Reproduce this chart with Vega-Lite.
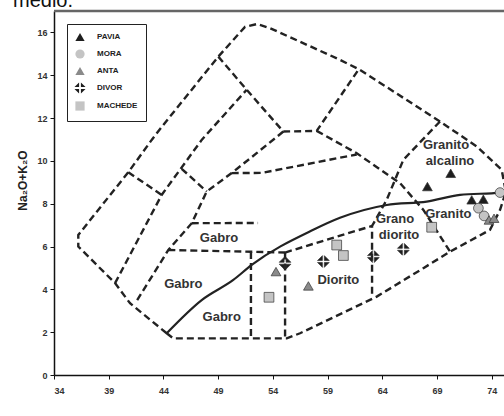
{
  "$schema": "https://vega.github.io/schema/vega-lite/v6.json",
  "width": 450,
  "height": 364,
  "autosize": {"type": "none"},
  "padding": {"left": 54, "top": 11, "right": 0, "bottom": 41},
  "background": "white",
  "config": {"view": {"stroke": null}},
  "datasets": {
    "bounds": [
      {"id": "outer", "o": 1, "x": 44.30, "y": 1.95},
      {"id": "outer", "o": 2, "x": 40.95, "y": 3.35},
      {"id": "outer", "o": 3, "x": 39.58, "y": 4.29},
      {"id": "outer", "o": 4, "x": 36.22, "y": 6.00},
      {"id": "outer", "o": 5, "x": 36.22, "y": 6.54},
      {"id": "outer", "o": 6, "x": 40.79, "y": 9.47},
      {"id": "outer", "o": 7, "x": 42.93, "y": 10.98},
      {"id": "outer", "o": 8, "x": 43.99, "y": 11.68},
      {"id": "outer", "o": 9, "x": 49.02, "y": 14.87},
      {"id": "outer", "o": 10, "x": 51.46, "y": 16.26},
      {"id": "outer", "o": 11, "x": 52.56, "y": 16.39},
      {"id": "outer", "o": 12, "x": 53.74, "y": 16.20},
      {"id": "outer", "o": 13, "x": 60.14, "y": 14.72},
      {"id": "outer", "o": 14, "x": 61.97, "y": 14.25},
      {"id": "outer", "o": 15, "x": 69.28, "y": 11.84},
      {"id": "outer", "o": 16, "x": 72.64, "y": 10.67},
      {"id": "outer", "o": 17, "x": 74.92, "y": 9.58},
      {"id": "outer", "o": 18, "x": 75.3, "y": 8.55},
      {"id": "outer", "o": 19, "x": 74.77, "y": 7.71},
      {"id": "outer", "o": 20, "x": 73.85, "y": 6.78},
      {"id": "outer", "o": 21, "x": 70.20, "y": 5.76},
      {"id": "outer", "o": 22, "x": 67.76, "y": 4.99},
      {"id": "outer", "o": 23, "x": 63.50, "y": 3.66},
      {"id": "outer", "o": 24, "x": 56.49, "y": 1.95},
      {"id": "outer", "o": 25, "x": 55.27, "y": 1.71},
      {"id": "outer", "o": 26, "x": 44.90, "y": 1.71},
      {"id": "outer", "o": 27, "x": 44.30, "y": 1.95},
      {"id": "p2", "o": 1, "x": 39.58, "y": 4.29},
      {"id": "p2", "o": 2, "x": 43.84, "y": 8.41},
      {"id": "p2", "o": 3, "x": 47.50, "y": 10.98},
      {"id": "p2", "o": 4, "x": 51.61, "y": 13.32},
      {"id": "p2b", "o": 1, "x": 40.79, "y": 9.47},
      {"id": "p2b", "o": 2, "x": 43.84, "y": 8.41},
      {"id": "p3", "o": 1, "x": 49.02, "y": 14.87},
      {"id": "p3", "o": 2, "x": 51.61, "y": 13.32},
      {"id": "p3", "o": 3, "x": 54.96, "y": 11.37},
      {"id": "p3", "o": 4, "x": 58.01, "y": 11.40},
      {"id": "p3", "o": 5, "x": 61.79, "y": 14.23},
      {"id": "p3b", "o": 1, "x": 58.01, "y": 11.40},
      {"id": "p3b", "o": 2, "x": 61.67, "y": 10.36},
      {"id": "p3b", "o": 3, "x": 65.63, "y": 8.96},
      {"id": "p3b", "o": 4, "x": 67.76, "y": 7.71},
      {"id": "p3b", "o": 5, "x": 70.20, "y": 5.76},
      {"id": "p4", "o": 1, "x": 54.96, "y": 11.37},
      {"id": "p4", "o": 2, "x": 52.52, "y": 10.36},
      {"id": "p4", "o": 3, "x": 50.24, "y": 9.43},
      {"id": "p4", "o": 4, "x": 47.96, "y": 8.57},
      {"id": "p4", "o": 5, "x": 46.59, "y": 7.09},
      {"id": "p4", "o": 6, "x": 44.45, "y": 5.84},
      {"id": "p4", "o": 7, "x": 41.50, "y": 3.41},
      {"id": "p4b", "o": 1, "x": 45.67, "y": 9.63},
      {"id": "p4b", "o": 2, "x": 47.96, "y": 8.57},
      {"id": "p5", "o": 1, "x": 50.24, "y": 9.43},
      {"id": "p5", "o": 2, "x": 53.01, "y": 9.44},
      {"id": "p5", "o": 3, "x": 61.67, "y": 10.30},
      {"id": "gtop", "o": 1, "x": 46.59, "y": 7.09},
      {"id": "gtop", "o": 2, "x": 52.65, "y": 7.10},
      {"id": "gbot", "o": 1, "x": 44.45, "y": 5.84},
      {"id": "gbot", "o": 2, "x": 55.12, "y": 5.72},
      {"id": "v1", "o": 1, "x": 52.0, "y": 5.75},
      {"id": "v1", "o": 2, "x": 52.0, "y": 1.71},
      {"id": "v2", "o": 1, "x": 55.12, "y": 5.72},
      {"id": "v2", "o": 2, "x": 55.12, "y": 1.71},
      {"id": "p7", "o": 1, "x": 55.12, "y": 5.72},
      {"id": "p7", "o": 2, "x": 59.84, "y": 6.46},
      {"id": "p7", "o": 3, "x": 63.07, "y": 6.96},
      {"id": "p8", "o": 1, "x": 69.28, "y": 11.84},
      {"id": "p8", "o": 2, "x": 65.93, "y": 10.05},
      {"id": "p8", "o": 3, "x": 64.41, "y": 8.18},
      {"id": "p8", "o": 4, "x": 63.07, "y": 6.96},
      {"id": "p8", "o": 5, "x": 63.07, "y": 3.62}
    ],
    "divide": [
      {"o": 1, "x": 44.30, "y": 1.95},
      {"o": 2, "x": 47.50, "y": 3.50},
      {"o": 3, "x": 50.39, "y": 4.44},
      {"o": 4, "x": 52.07, "y": 5.14},
      {"o": 5, "x": 57.70, "y": 6.78},
      {"o": 6, "x": 60.14, "y": 7.34},
      {"o": 7, "x": 64.41, "y": 7.94},
      {"o": 8, "x": 68.07, "y": 8.10},
      {"o": 9, "x": 71.11, "y": 8.41},
      {"o": 10, "x": 74.77, "y": 8.52},
      {"o": 11, "x": 75.2, "y": 8.55}
    ],
    "samples": [
      {"grupo": "PAVIA", "x": 68.13, "y": 8.80},
      {"grupo": "PAVIA", "x": 70.26, "y": 9.42},
      {"grupo": "PAVIA", "x": 72.18, "y": 8.18},
      {"grupo": "PAVIA", "x": 73.24, "y": 8.21},
      {"grupo": "MORA", "x": 74.77, "y": 8.52},
      {"grupo": "MORA", "x": 72.79, "y": 7.79},
      {"grupo": "MORA", "x": 73.31, "y": 7.43},
      {"grupo": "ANTA", "x": 73.76, "y": 7.24},
      {"grupo": "ANTA", "x": 74.22, "y": 7.32},
      {"grupo": "ANTA", "x": 54.29, "y": 4.83},
      {"grupo": "ANTA", "x": 57.25, "y": 4.16},
      {"grupo": "DIVOR", "x": 55.12, "y": 5.22},
      {"grupo": "DIVOR", "x": 58.62, "y": 5.30},
      {"grupo": "DIVOR", "x": 63.19, "y": 5.53},
      {"grupo": "DIVOR", "x": 65.93, "y": 5.87},
      {"grupo": "MACHEDE", "x": 59.84, "y": 6.07},
      {"grupo": "MACHEDE", "x": 60.45, "y": 5.58},
      {"grupo": "MACHEDE", "x": 53.65, "y": 3.63},
      {"grupo": "MACHEDE", "x": 68.52, "y": 6.90}
    ],
    "labels": [
      {"t": "Gabro", "x": 49.08, "y": 6.39},
      {"t": "Gabro", "x": 45.82, "y": 4.25},
      {"t": "Gabro", "x": 49.33, "y": 2.73},
      {"t": "Diorito", "x": 59.99, "y": 4.44},
      {"t": "Grano", "x": 65.17, "y": 7.28},
      {"t": "diorito", "x": 65.54, "y": 6.54},
      {"t": "Granito", "x": 70.04, "y": 7.52},
      {"t": "Granito", "x": 69.83, "y": 10.75},
      {"t": "alcalino", "x": 70.20, "y": 10.0}
    ],
    "caption": [{"t": "medio.", "x": 30.25, "y": 17.2}],
    "frame": [{"v": 17}]
  },
  "layer": [
    {
      "data": {"name": "bounds"},
      "mark": {"type": "line", "color": "#222", "strokeWidth": 2.4, "strokeDash": [7, 4], "clip": true},
      "encoding": {
        "x": {"field": "x", "type": "quantitative", "scale": {"domain": [34, 75.13], "nice": false, "zero": false},
          "axis": {"values": [34, 39, 44, 49, 54, 59, 64, 69, 74], "grid": false, "domainColor": "#111", "domainWidth": 1.5, "tickColor": "#111", "tickSize": 4, "labelFont": "Liberation Sans", "labelFontWeight": "bold", "labelFontSize": 9, "labelColor": "#333", "labelPadding": 7, "title": "SiO₂", "titleFont": "Liberation Sans", "titleFontWeight": "bold", "titleFontSize": 13, "titleColor": "#222", "titleX": 238, "titleY": 403, "titleBaseline": "alphabetic", "titleAlign": "center"}},
        "y": {"field": "y", "type": "quantitative", "scale": {"domain": [0, 17], "nice": false},
          "axis": {"values": [0, 2, 4, 6, 8, 10, 12, 14, 16], "grid": false, "domainColor": "#111", "domainWidth": 1.5, "tickColor": "#111", "tickSize": 4, "labelFont": "Liberation Sans", "labelFontWeight": "bold", "labelFontSize": 9, "labelColor": "#333", "labelPadding": 3, "title": "Na₂O+K₂O", "titleFont": "Liberation Sans", "titleFontWeight": "bold", "titleFontSize": 12, "titleColor": "#222", "titleX": -32, "titleY": 169, "titleAngle": -90, "titleAlign": "center", "titleBaseline": "middle"}},
        "detail": {"field": "id", "type": "nominal"},
        "order": {"field": "o", "type": "quantitative"}
      }
    },
    {
      "data": {"name": "frame"},
      "mark": {"type": "rule", "color": "#666", "strokeWidth": 2.5},
      "encoding": {"y": {"field": "v", "type": "quantitative"}}
    },
    {
      "data": {"name": "caption"},
      "mark": {"type": "text", "font": "Liberation Sans", "fontSize": 20, "color": "#111", "align": "left", "baseline": "alphabetic", "clip": false},
      "encoding": {
        "x": {"field": "x", "type": "quantitative"},
        "y": {"field": "y", "type": "quantitative"},
        "text": {"field": "t", "type": "nominal"}
      }
    },
    {
      "data": {"name": "divide"},
      "mark": {"type": "line", "color": "#222", "strokeWidth": 2.2, "clip": true, "interpolate": "monotone"},
      "encoding": {
        "x": {"field": "x", "type": "quantitative"},
        "y": {"field": "y", "type": "quantitative"},
        "order": {"field": "o", "type": "quantitative"}
      }
    },
    {
      "data": {"name": "labels"},
      "mark": {"type": "text", "font": "Liberation Sans", "fontWeight": "bold", "fontSize": 13, "color": "#333", "align": "center", "baseline": "middle"},
      "encoding": {
        "x": {"field": "x", "type": "quantitative"},
        "y": {"field": "y", "type": "quantitative"},
        "text": {"field": "t", "type": "nominal"}
      }
    },
    {
      "data": {"name": "samples"},
      "mark": {"type": "point", "filled": true, "stroke": "#333", "strokeWidth": 0.7, "size": 95, "opacity": 1, "clip": true},
      "encoding": {
        "x": {"field": "x", "type": "quantitative"},
        "y": {"field": "y", "type": "quantitative"},
        "shape": {"field": "grupo", "type": "nominal",
          "scale": {"domain": ["PAVIA", "MORA", "ANTA", "DIVOR", "MACHEDE"],
            "range": ["triangle-up", "circle", "triangle-up", "M0.2,-0.2L1.2,-0.2L0.2,-1.2Z M-0.2,-0.2L-1.2,-0.2L-0.2,-1.2Z M0.2,0.2L1.2,0.2L0.2,1.2Z M-0.2,0.2L-1.2,0.2L-0.2,1.2Z", "square"]},
          "legend": {"title": null, "orient": "none", "legendX": 13, "legendY": 13, "strokeColor": "#222", "fillColor": "white", "padding": 8, "rowPadding": 4, "symbolSize": 85, "symbolStrokeWidth": 0.7, "symbolStrokeColor": "#333", "labelFont": "Liberation Sans", "labelFontWeight": "bold", "labelFontSize": 8, "labelColor": "#222", "labelOffset": 12}},
        "fill": {"field": "grupo", "type": "nominal",
          "scale": {"domain": ["PAVIA", "MORA", "ANTA", "DIVOR", "MACHEDE"],
            "range": ["#1e1e1e", "#c4c4c4", "#8a8a8a", "#1e1e1e", "#c4c4c4"]},
          "legend": {"title": null, "orient": "none", "legendX": 13, "legendY": 13, "strokeColor": "#222", "fillColor": "white", "padding": 8, "rowPadding": 4, "symbolSize": 85, "symbolStrokeWidth": 0.7, "symbolStrokeColor": "#333", "labelFont": "Liberation Sans", "labelFontWeight": "bold", "labelFontSize": 8, "labelColor": "#222", "labelOffset": 12}}
      }
    }
  ]
}
